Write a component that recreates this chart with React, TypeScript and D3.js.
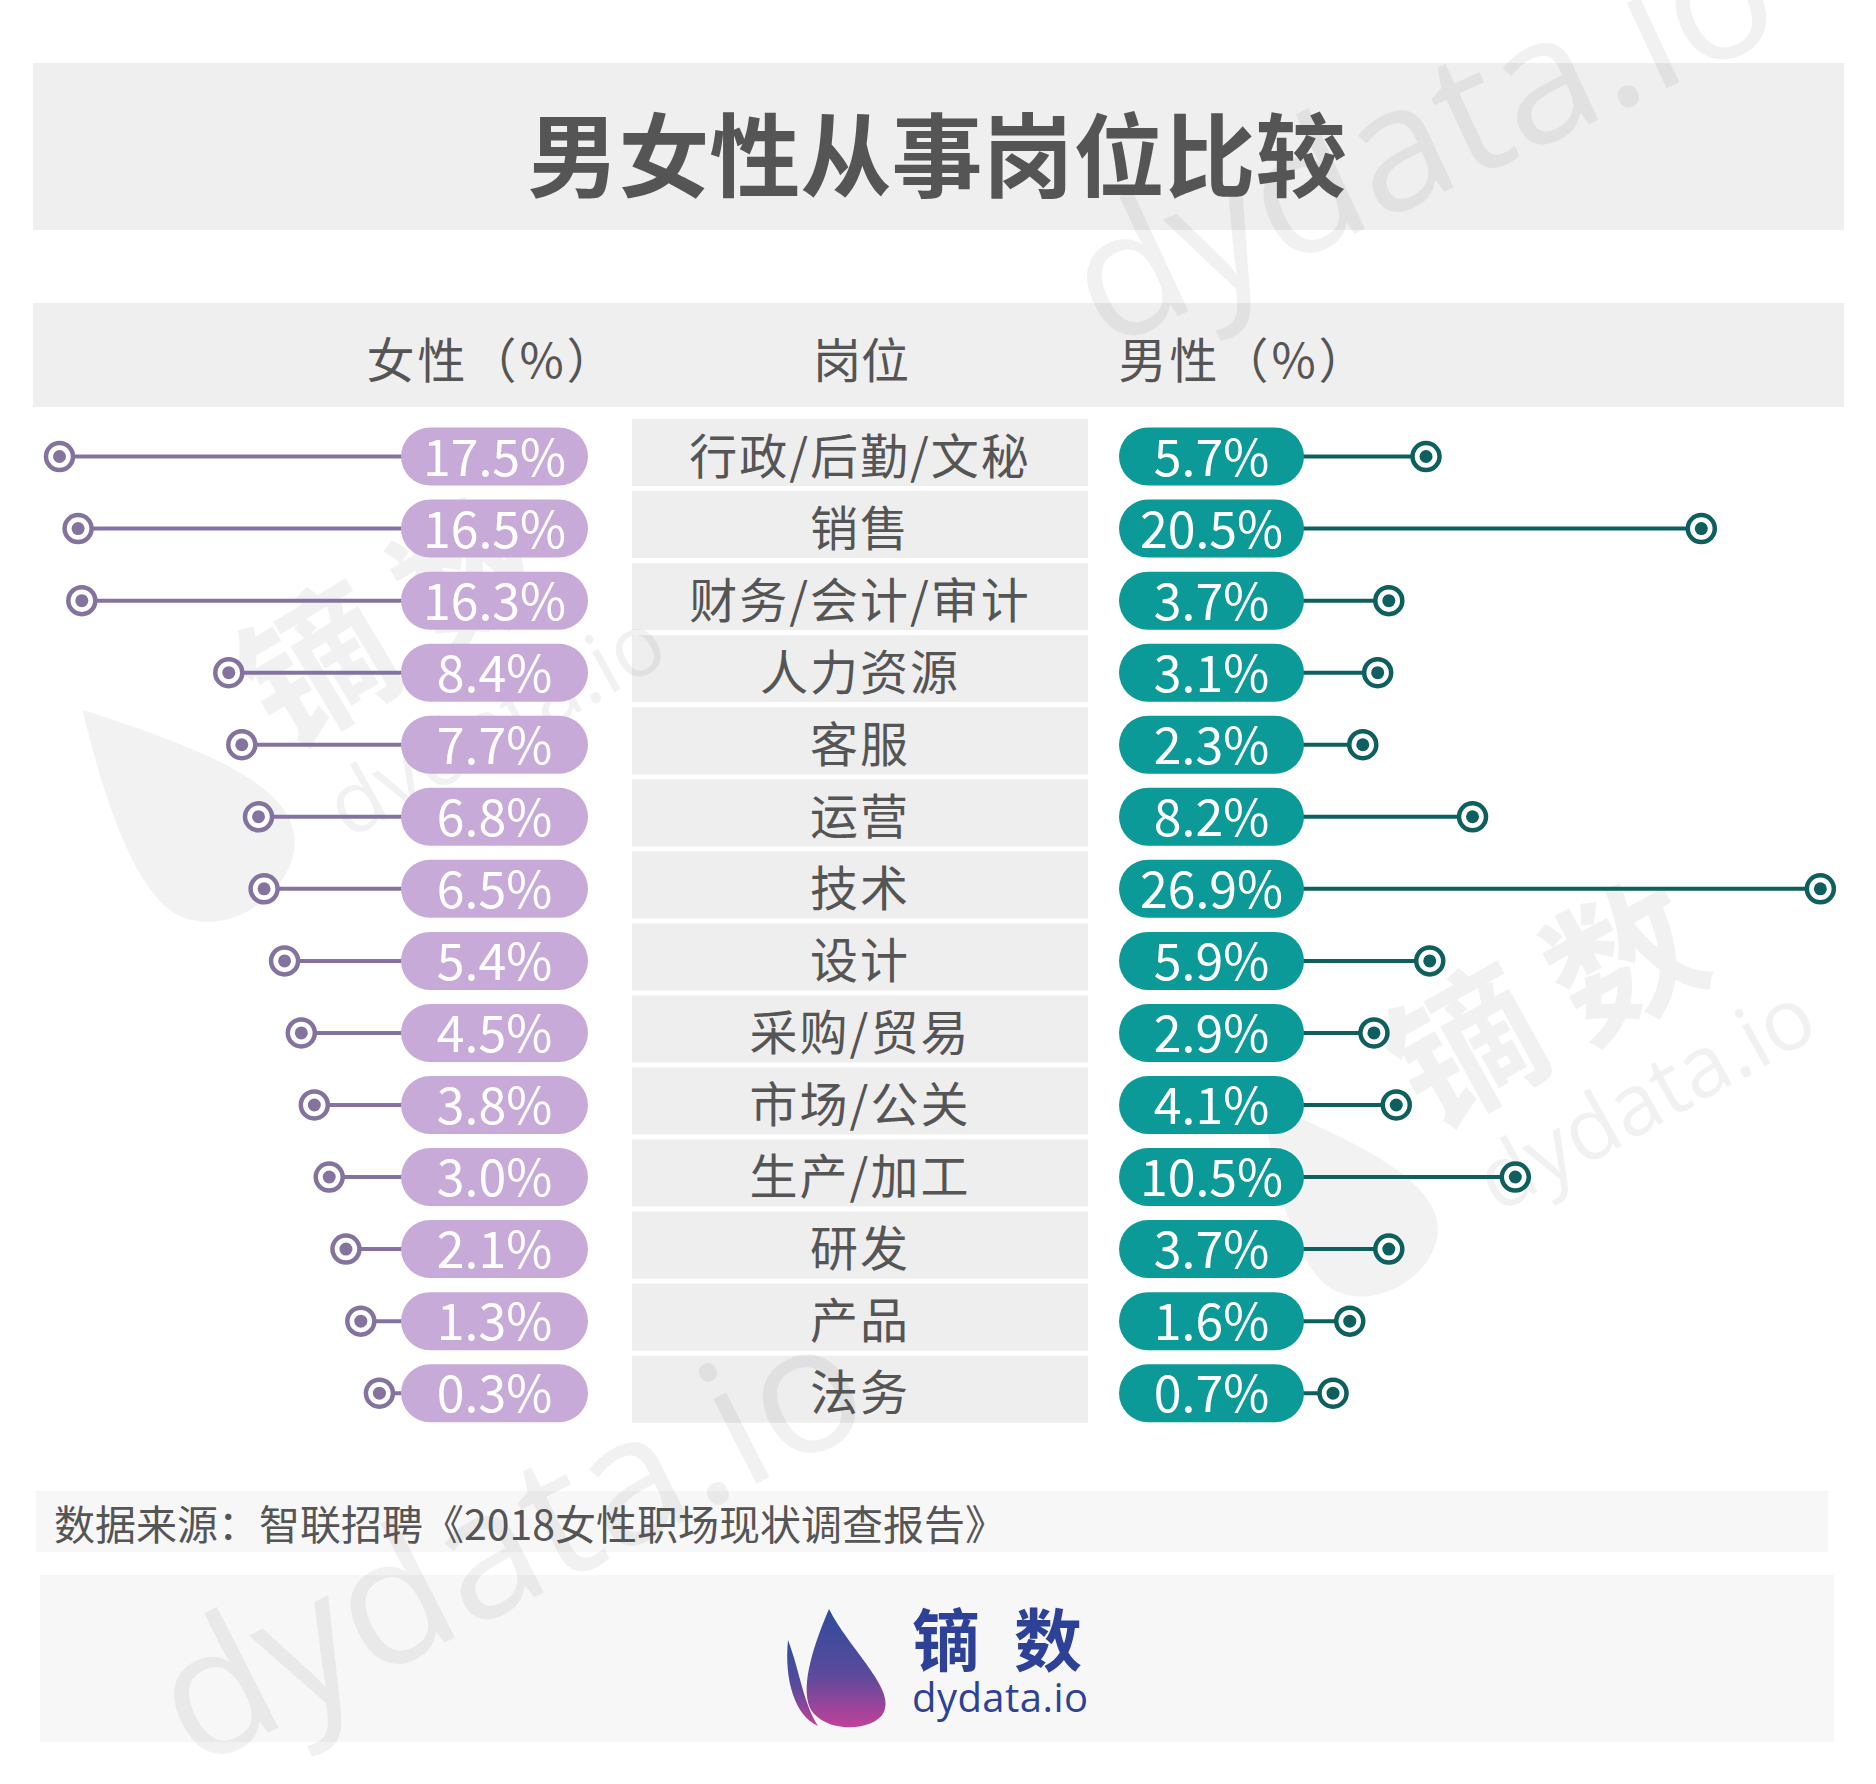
import * as d3 from "d3";

const categories = [
  "行政/后勤/文秘",
  "销售",
  "财务/会计/审计",
  "人力资源",
  "客服",
  "运营",
  "技术",
  "设计",
  "采购/贸易",
  "市场/公关",
  "生产/加工",
  "研发",
  "产品",
  "法务",
];
const femaleValues = [17.5, 16.5, 16.3, 8.4, 7.7, 6.8, 6.5, 5.4, 4.5, 3.8, 3.0, 2.1, 1.3, 0.3];
const maleValues = [5.7, 20.5, 3.7, 3.1, 2.3, 8.2, 26.9, 5.9, 2.9, 4.1, 10.5, 3.7, 1.6, 0.7];
const headers = ["女性（%）", "岗位", "男性（%）"];
const title = "男女性从事岗位比较";
const source = "数据来源：智联招聘《2018女性职场现状调查报告》";

const W = 1876;
const H = 1784;
const FONT = '"Noto Sans CJK SC", "Noto Sans", sans-serif';
const LATIN = '"Open Sans", sans-serif';
const TEXT = "#555555";
const CELL = "#eeeeee";
const F_PILL = "#c8aad8";
const F_LINE = "#85739f";
const M_PILL = "#0b9a98";
const M_LINE = "#0e605e";

const fmt = (v: number) => d3.format(".1f")(v) + "%";

const LEAF = "M0,-60 C25,-20 45,15 35,35 C25,55 -15,55 -25,30 C-32,10 -15,-30 0,-60 Z";

function Dot({ cx, cy, color }: { cx: number; cy: number; color: string }) {
  return (
    <g>
      <circle cx={cx} cy={cy} r={13.5} fill="#fff" stroke={color} strokeWidth={4.5} />
      <circle cx={cx} cy={cy} r={6.5} fill={color} />
    </g>
  );
}

// faint brand marks; drawn twice (dark under the marks, light over the pills)
function Watermarks({ fill, opacity }: { fill: string; opacity: number }) {
  const wm = { fill, opacity };
  return (
    <g pointerEvents="none">
      <text {...wm} transform="translate(1105,350) rotate(-25)" fontSize={175} fontFamily={LATIN}>
        dydata.io
      </text>
      <text {...wm} transform="translate(195,1770) rotate(-27)" fontSize={178} fontFamily={LATIN}>
        dydata.io
      </text>
      <text {...wm} transform="translate(282,752) rotate(-31)" fontSize={150} fontWeight="bold" fontFamily={FONT} letterSpacing={30}>
        镝数
      </text>
      <text {...wm} transform="translate(348,840) rotate(-29)" fontSize={86} fontFamily={LATIN}>
        dydata.io
      </text>
      <path {...wm} transform="translate(175,820) rotate(-40) scale(2.4)" d={LEAF} />
      <text {...wm} transform="translate(1428,1132) rotate(-29)" fontSize={150} fontWeight="bold" fontFamily={FONT} letterSpacing={30}>
        镝数
      </text>
      <text {...wm} transform="translate(1498,1214) rotate(-29)" fontSize={86} fontFamily={LATIN}>
        dydata.io
      </text>
      <path {...wm} transform="translate(1335,1205) rotate(-35) scale(2.1)" d={LEAF} />
    </g>
  );
}

export default function App() {
  const y = d3
    .scaleBand<string>()
    .domain(categories)
    .range([416.5, 416.5 + 14 * 72.05])
    .paddingInner(0.0694)
    .paddingOuter(0.0347);

  // same % scale on both sides
  const len = d3.scaleLinear().domain([0, 30]).range([0, 558]);
  const fZero = 385;
  const mZero = 1320;
  const fPill = { x0: 401, x1: 588 };
  const mPill = { x0: 1119, x1: 1304 };
  const pillH = 58;
  const cell = { x0: 632, x1: 1088 };

  return (
    <svg
      width={W}
      height={H}
      viewBox={`0 0 ${W} ${H}`}
      style={{ position: "absolute", left: 0, top: 0, background: "#fff" }}
      fontFamily={FONT}
    >
      <defs>
        <clipPath id="pills">
          {categories.map((c) => {
            const cy = y(c)! + y.bandwidth() / 2 + 4;
            return (
              <g key={c}>
                <rect x={fPill.x0} y={cy - pillH / 2} width={fPill.x1 - fPill.x0} height={pillH} rx={pillH / 2} />
                <rect x={mPill.x0} y={cy - pillH / 2} width={mPill.x1 - mPill.x0} height={pillH} rx={pillH / 2} />
              </g>
            );
          })}
        </clipPath>
        <linearGradient id="leaf" x1="0" y1="0" x2="0" y2="1">
          <stop offset="0" stopColor="#2f4c9c" />
          <stop offset="0.55" stopColor="#5a4a9c" />
          <stop offset="1" stopColor="#c2419a" />
        </linearGradient>
      </defs>

      <rect width={W} height={H} fill="#fff" />

      {/* bands */}
      <rect x={33} y={63} width={1811} height={167} fill="#efefef" />
      <rect x={33} y={303} width={1811} height={104} fill="#efefef" />
      {categories.map((c) => (
        <rect key={c} x={cell.x0} y={y(c)!} width={cell.x1 - cell.x0} height={y.bandwidth()} fill={CELL} />
      ))}
      <rect x={36} y={1491} width={1792} height={61} fill="#f7f7f7" />
      <rect x={40} y={1575} width={1794} height={167} fill="#f7f7f7" />

      <Watermarks fill="#000" opacity={0.05} />

      <text x={937} y={150} textAnchor="middle" dominantBaseline="central" fontSize={91} fontWeight="bold" fill={TEXT}>
        {title}
      </text>

      {headers.map((h, i) => (
        <text
          key={h}
          x={[492, 861, 1244][i]}
          y={357}
          textAnchor="middle"
          dominantBaseline="central"
          fontSize={48}
          letterSpacing={i === 1 ? 0 : 3}
          fill={TEXT}
        >
          {h}
        </text>
      ))}

      {categories.map((c, i) => {
        const mid = y(c)! + y.bandwidth() / 2;
        const cy = mid + 4;
        const fx = fZero - len(femaleValues[i]);
        const mx = mZero + len(maleValues[i]);
        return (
          <g key={c}>
            <text x={(cell.x0 + cell.x1) / 2} y={mid} textAnchor="middle" dominantBaseline="central" fontSize={48} letterSpacing={2} fill={TEXT}>
              {c}
            </text>

            <line x1={fx} x2={fPill.x0 + 20} y1={cy} y2={cy} stroke={F_LINE} strokeWidth={4} />
            <rect x={fPill.x0} y={cy - pillH / 2} width={fPill.x1 - fPill.x0} height={pillH} rx={pillH / 2} fill={F_PILL} />
            <text x={(fPill.x0 + fPill.x1) / 2} y={cy - 3} textAnchor="middle" dominantBaseline="central" fontSize={50} fill="#fff">
              {fmt(femaleValues[i])}
            </text>
            <Dot cx={fx} cy={cy} color={F_LINE} />

            <line x1={mPill.x1 - 20} x2={mx} y1={cy} y2={cy} stroke={M_LINE} strokeWidth={4} />
            <rect x={mPill.x0} y={cy - pillH / 2} width={mPill.x1 - mPill.x0} height={pillH} rx={pillH / 2} fill={M_PILL} />
            <text x={(mPill.x0 + mPill.x1) / 2} y={cy - 3} textAnchor="middle" dominantBaseline="central" fontSize={50} fill="#fff">
              {fmt(maleValues[i])}
            </text>
            <Dot cx={mx} cy={cy} color={M_LINE} />
          </g>
        );
      })}

      <g clipPath="url(#pills)">
        <Watermarks fill="#fff" opacity={0.22} />
      </g>

      {/* source */}
      <text x={54} y={1522} dominantBaseline="central" fontSize={41} fill={TEXT}>
        {source}
      </text>

      {/* logo */}
      <path
        d="M829,1609 C850,1650 895,1688 884,1712 C874,1732 824,1734 810,1708 C800,1684 815,1642 829,1609 Z"
        fill="url(#leaf)"
      />
      <path d="M788,1640 C784,1680 795,1716 818,1726 C803,1702 800,1672 788,1640 Z" fill="url(#leaf)" />
      <text x={912} y={1636} dominantBaseline="central" fontSize={68} fontWeight="bold" fill="#2d4196" letterSpacing={34}>
        镝数
      </text>
      <text x={912} y={1696} dominantBaseline="central" fontSize={40} fill="#2d4196" fontFamily={LATIN} textLength={176}>
        dydata.io
      </text>
    </svg>
  );
}
